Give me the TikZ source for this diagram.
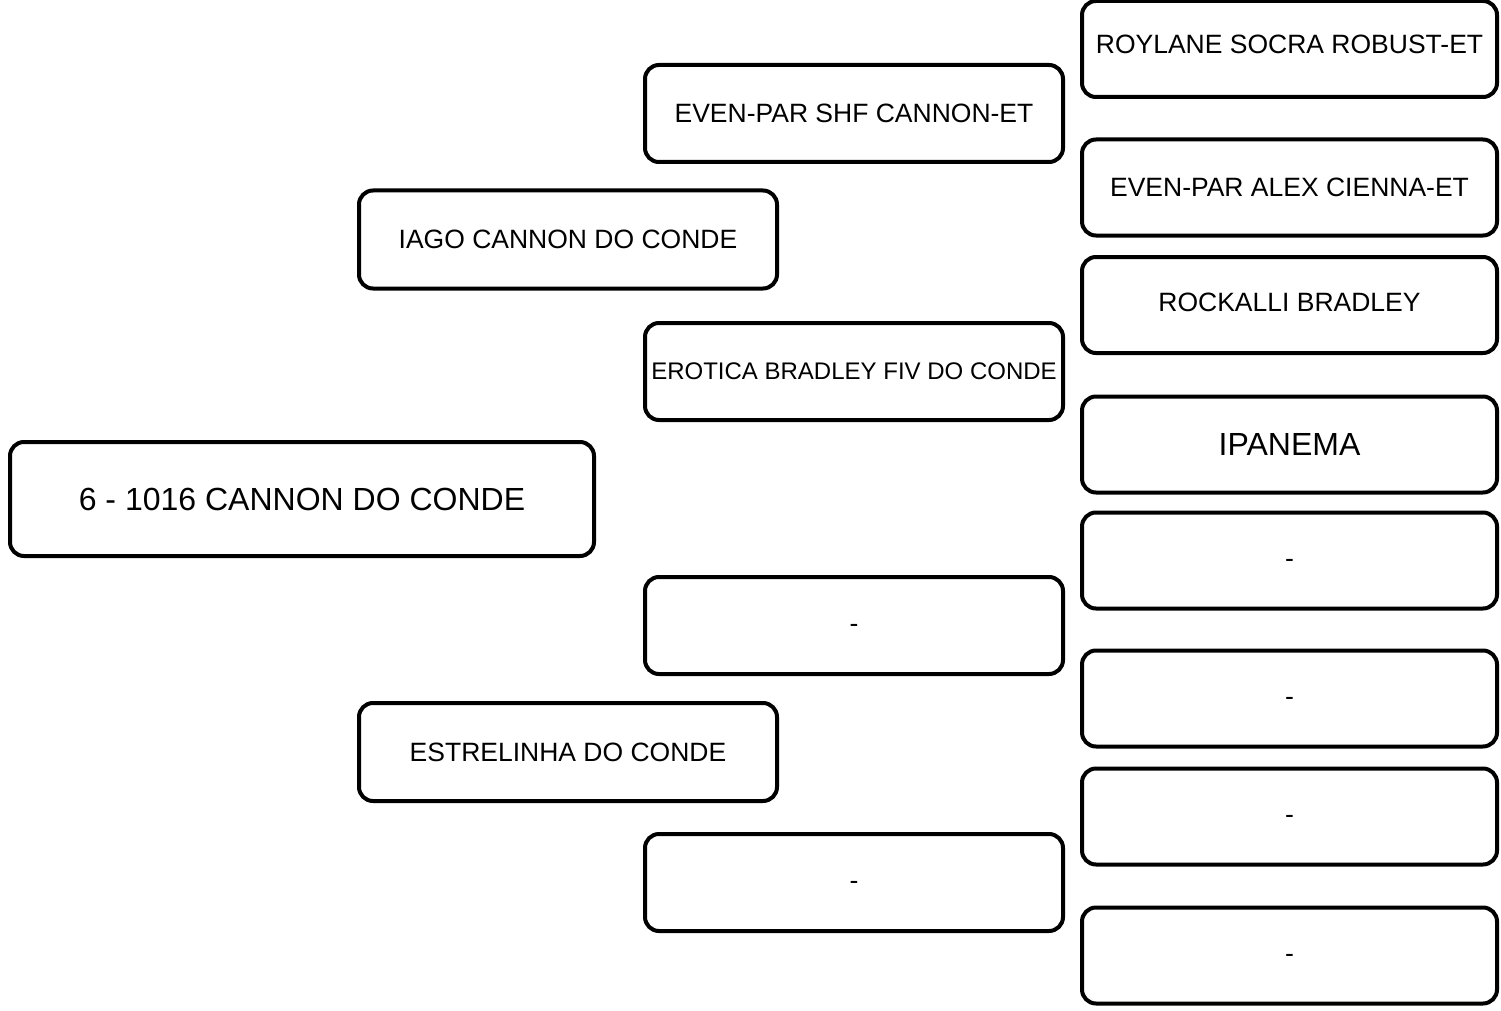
\documentclass[tikz,border=0pt]{standalone}
\usepackage{fontspec}
\setmainfont{Liberation Sans}
\begin{document}
\begin{tikzpicture}[x=1pt,y=-1pt,
  box/.style={draw=black, line width=4pt, rounded corners=14pt, fill=white,
    inner sep=0pt, outer sep=0pt,
    align=center, font=\fontsize{26.5}{30}\selectfont},
  c2/.style={box, minimum width=418pt, minimum height=98pt},
  c3/.style={box, minimum width=418pt, minimum height=97pt},
  c4/.style={box, minimum width=415pt, minimum height=96pt},
  big/.style={font=\fontsize{32}{36}\selectfont},
  small/.style={font=\fontsize{24}{28}\selectfont},
  blank/.style={text height=14.4pt, text depth=0pt}]
\useasboundingbox (0,0) rectangle (1501,1011);
% root
\node[box, big, minimum width=584pt, minimum height=114pt] (root) at (302,499) {6 - 1016 CANNON DO CONDE};
% column 2
\node[c2] (s) at (568,239.5) {IAGO CANNON DO CONDE};
\node[c2] (d) at (568,752) {ESTRELINHA DO CONDE};
% column 3
\node[c3] (ss) at (854,113.5) {EVEN-PAR SHF CANNON-ET};
\node[c3, small] (sd) at (854,371.5) {EROTICA BRADLEY FIV DO CONDE};
\node[c3, blank] (ds) at (854,625.5) {-};
\node[c3, blank] (dd) at (854,882.5) {-};
% column 4
\node[c4, text depth=10pt] (sss) at (1289.5,49) {ROYLANE SOCRA ROBUST-ET};
\node[c4] (ssd) at (1289.5,187.5) {EVEN-PAR ALEX CIENNA-ET};
\node[c4, text depth=6pt] (sds) at (1289.5,305) {ROCKALLI BRADLEY};
\node[c4, big] (sdd) at (1289.5,444.5) {IPANEMA};
\node[c4, blank] (dss) at (1289.5,560.5) {-};
\node[c4, blank] (dsd) at (1289.5,698.5) {-};
\node[c4, blank] (dds) at (1289.5,816.5) {-};
\node[c4, blank] (ddd) at (1289.5,955.5) {-};
\end{tikzpicture}
\end{document}
